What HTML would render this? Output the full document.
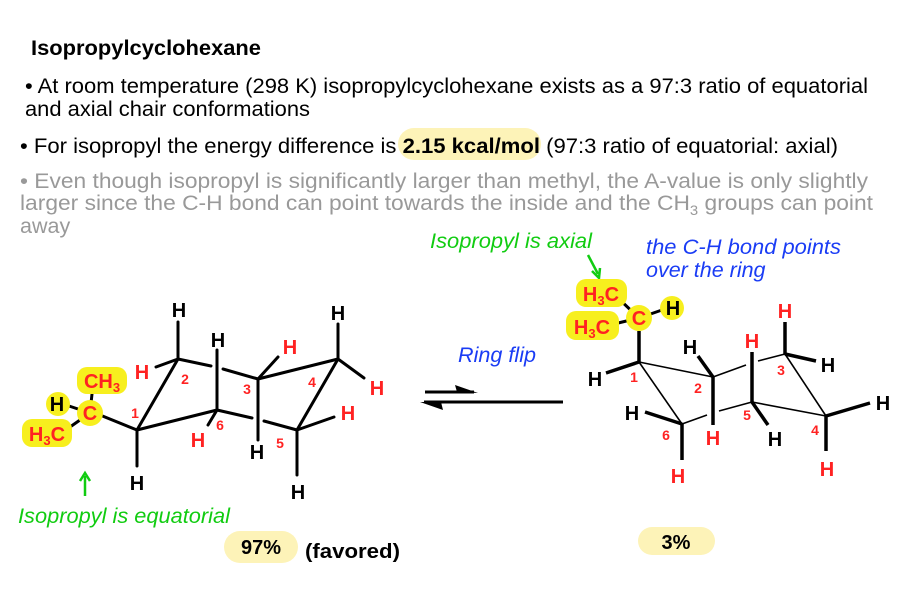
<!DOCTYPE html>
<html><head><meta charset="utf-8"><style>
html,body{margin:0;padding:0;background:#fff;}
svg{display:block;font-family:"Liberation Sans",sans-serif;}
</style></head><body>
<svg width="908" height="600" viewBox="0 0 908 600" xmlns="http://www.w3.org/2000/svg">
<rect width="908" height="600" fill="#fff"/>
<!-- header text -->
<text x="31" y="55" font-size="21" font-weight="bold" fill="#000" textLength="230" lengthAdjust="spacingAndGlyphs">Isopropylcyclohexane</text>
<text x="25" y="93" font-size="21.5" fill="#000" textLength="843" lengthAdjust="spacingAndGlyphs">• At room temperature (298 K) isopropylcyclohexane exists as a 97:3 ratio of equatorial</text>
<text x="25" y="116" font-size="21.5" fill="#000" textLength="285" lengthAdjust="spacingAndGlyphs">and axial chair conformations</text>
<rect x="398" y="128" width="143" height="32" rx="16" fill="#fdf3b8"/>
<text x="20" y="153" font-size="21.5" fill="#000" textLength="818" lengthAdjust="spacingAndGlyphs">• For isopropyl the energy difference is <tspan font-weight="bold">2.15 kcal/mol</tspan> (97:3 ratio of equatorial: axial)</text>
<text x="20" y="188" font-size="21.5" fill="#999" textLength="848" lengthAdjust="spacingAndGlyphs">• Even though isopropyl is significantly larger than methyl, the A-value is only slightly</text>
<text x="20" y="210" font-size="21.5" fill="#999" textLength="853" lengthAdjust="spacingAndGlyphs">larger since the C-H bond can point towards the inside and the CH<tspan font-size="14" dy="5">3</tspan><tspan dy="-5"> groups can point</tspan></text>
<text x="20" y="233" font-size="21.5" fill="#999">away</text>

<!-- LEFT CHAIR -->
<g stroke="#000" stroke-width="3" fill="none" stroke-linecap="round">
<line x1="137" y1="430" x2="178" y2="359"/>
<line x1="178" y1="359" x2="211" y2="366"/>
<line x1="223" y1="369" x2="258" y2="379"/>
<line x1="258" y1="379" x2="338" y2="359"/>
<line x1="338" y1="359" x2="297" y2="430"/>
<line x1="297" y1="430" x2="264" y2="421"/>
<line x1="252" y1="418" x2="217" y2="410"/>
<line x1="217" y1="410" x2="137" y2="430"/>
<line x1="178" y1="359" x2="178" y2="322"/>
<line x1="178" y1="359" x2="156" y2="367"/>
<line x1="217" y1="410" x2="217" y2="350"/>
<line x1="217" y1="410" x2="208" y2="425"/>
<line x1="258" y1="379" x2="258" y2="440"/>
<line x1="258" y1="379" x2="278" y2="357"/>
<line x1="338" y1="359" x2="338" y2="324"/>
<line x1="338" y1="359" x2="364" y2="378"/>
<line x1="297" y1="430" x2="297" y2="475"/>
<line x1="297" y1="430" x2="334" y2="417"/>
<line x1="137" y1="430" x2="137" y2="466"/>
<line x1="137" y1="430" x2="100" y2="415"/>
<line x1="90" y1="413" x2="92" y2="394"/>
<line x1="90" y1="413" x2="66" y2="405"/>
<line x1="90" y1="413" x2="70" y2="427"/>
</g>
<rect x="77" y="367" width="50" height="27" rx="10" fill="#f7ef1e"/>
<rect x="22" y="419" width="50" height="28" rx="10" fill="#f7ef1e"/>
<circle cx="58" cy="404" r="12" fill="#f7ef1e"/>
<circle cx="90" cy="413" r="13" fill="#f7ef1e"/>
<g font-size="20" font-weight="bold" text-anchor="middle">
<text x="90" y="420" fill="#f22">C</text>
<text x="57" y="411" fill="#000">H</text>
<text x="102" y="388" fill="#f22">CH<tspan font-size="13" dy="4">3</tspan></text>
<text x="47" y="441" fill="#f22">H<tspan font-size="13" dy="4">3</tspan><tspan dy="-4">C</tspan></text>
<text x="179" y="317" fill="#000">H</text>
<text x="142" y="379" fill="#f22">H</text>
<text x="218" y="347" fill="#000">H</text>
<text x="198" y="447" fill="#f22">H</text>
<text x="290" y="354" fill="#f22">H</text>
<text x="257" y="459" fill="#000">H</text>
<text x="338" y="320" fill="#000">H</text>
<text x="377" y="395" fill="#f22">H</text>
<text x="348" y="420" fill="#f22">H</text>
<text x="298" y="499" fill="#000">H</text>
<text x="137" y="490" fill="#000">H</text>
</g>
<g font-size="14" font-weight="bold" fill="#f22" text-anchor="middle">
<text x="135" y="418">1</text><text x="185" y="384">2</text><text x="247" y="394">3</text>
<text x="312" y="387">4</text><text x="280" y="448">5</text><text x="220" y="430">6</text>
</g>
<g stroke="#1c1" stroke-width="2.5" fill="none"><line x1="85" y1="496" x2="85" y2="476"/><polyline points="80,481 85,473 90,481"/></g>
<text x="18" y="523" font-size="21.5" font-style="italic" fill="#1c1" textLength="212" lengthAdjust="spacingAndGlyphs">Isopropyl is equatorial</text>
<rect x="224" y="531" width="74" height="32" rx="16" fill="#fdf3b8"/>
<text x="261" y="554" font-size="20" font-weight="bold" text-anchor="middle" fill="#000">97%</text>
<text x="305" y="558" font-size="20" font-weight="bold" fill="#000" textLength="95" lengthAdjust="spacingAndGlyphs">(favored)</text>

<!-- equilibrium -->
<text x="458" y="362" font-size="21" font-style="italic" fill="#1a3cf5" textLength="78" lengthAdjust="spacingAndGlyphs">Ring flip</text>
<g stroke="#000" stroke-width="3" fill="none">
<line x1="425" y1="392" x2="474" y2="392"/>
<line x1="424" y1="402" x2="563" y2="402"/>
</g>
<polygon points="478,393 455,385 457,392" fill="#000"/>
<polygon points="420,402 443,410 441,402" fill="#000"/>

<!-- RIGHT CHAIR -->
<text x="430" y="248" font-size="21.5" font-style="italic" fill="#1c1" textLength="162" lengthAdjust="spacingAndGlyphs">Isopropyl is axial</text>
<text x="646" y="254" font-size="21.5" font-style="italic" fill="#1a3cf5" textLength="195" lengthAdjust="spacingAndGlyphs">the C-H bond points</text>
<text x="646" y="277" font-size="21.5" font-style="italic" fill="#1a3cf5">over the ring</text>
<g stroke="#1c1" stroke-width="2.5" fill="none"><line x1="588" y1="255" x2="598" y2="274"/><polyline points="592,271 599,278 600,268"/></g>
<g stroke="#000" stroke-width="1.6" fill="none">
<line x1="639" y1="362" x2="713" y2="377"/>
<line x1="713" y1="377" x2="746" y2="365"/>
<line x1="758" y1="361" x2="785" y2="354"/>
<line x1="785" y1="354" x2="826" y2="416"/>
<line x1="826" y1="416" x2="752" y2="402"/>
<line x1="752" y1="402" x2="719" y2="411"/>
<line x1="707" y1="415" x2="682" y2="424"/>
<line x1="682" y1="424" x2="639" y2="362"/>
</g>
<g stroke="#000" stroke-width="3.5" fill="none" stroke-linecap="butt">
<line x1="639" y1="362" x2="639" y2="331"/>
<line x1="639" y1="362" x2="606" y2="373"/>
<line x1="713" y1="377" x2="713" y2="425"/>
<line x1="713" y1="377" x2="698" y2="356"/>
<line x1="785" y1="354" x2="785" y2="322"/>
<line x1="785" y1="354" x2="816" y2="361"/>
<line x1="752" y1="402" x2="752" y2="352"/>
<line x1="752" y1="402" x2="768" y2="425"/>
<line x1="682" y1="424" x2="682" y2="460"/>
<line x1="682" y1="424" x2="645" y2="412"/>
<line x1="826" y1="416" x2="826" y2="451"/>
<line x1="826" y1="416" x2="870" y2="403"/>
</g>
<g stroke="#000" stroke-width="3" fill="none">
<line x1="639" y1="318" x2="618" y2="298"/>
<line x1="639" y1="318" x2="614" y2="324"/>
<line x1="639" y1="318" x2="662" y2="310"/>
</g>
<rect x="576" y="279" width="51" height="28" rx="10" fill="#f7ef1e"/>
<rect x="566" y="311" width="53" height="29" rx="10" fill="#f7ef1e"/>
<circle cx="639" cy="318" r="13" fill="#f7ef1e"/>
<circle cx="672" cy="308" r="12" fill="#f7ef1e"/>
<g font-size="20" font-weight="bold" text-anchor="middle">
<text x="639" y="325" fill="#f22">C</text>
<text x="673" y="315" fill="#000">H</text>
<text x="601" y="301" fill="#f22">H<tspan font-size="13" dy="4">3</tspan><tspan dy="-4">C</tspan></text>
<text x="592" y="334" fill="#f22">H<tspan font-size="13" dy="4">3</tspan><tspan dy="-4">C</tspan></text>
<text x="595" y="386" fill="#000">H</text>
<text x="713" y="445" fill="#f22">H</text>
<text x="690" y="354" fill="#000">H</text>
<text x="785" y="318" fill="#f22">H</text>
<text x="828" y="372" fill="#000">H</text>
<text x="752" y="348" fill="#f22">H</text>
<text x="775" y="446" fill="#000">H</text>
<text x="678" y="483" fill="#f22">H</text>
<text x="632" y="420" fill="#000">H</text>
<text x="827" y="476" fill="#f22">H</text>
<text x="883" y="410" fill="#000">H</text>
</g>
<g font-size="14" font-weight="bold" fill="#f22" text-anchor="middle">
<text x="634" y="382">1</text><text x="698" y="393">2</text><text x="781" y="375">3</text>
<text x="815" y="435">4</text><text x="747" y="420">5</text><text x="666" y="440">6</text>
</g>
<rect x="638" y="527" width="77" height="28" rx="14" fill="#fdf3b8"/>
<text x="676" y="549" font-size="20" font-weight="bold" text-anchor="middle" fill="#000">3%</text>
</svg>
</body></html>
